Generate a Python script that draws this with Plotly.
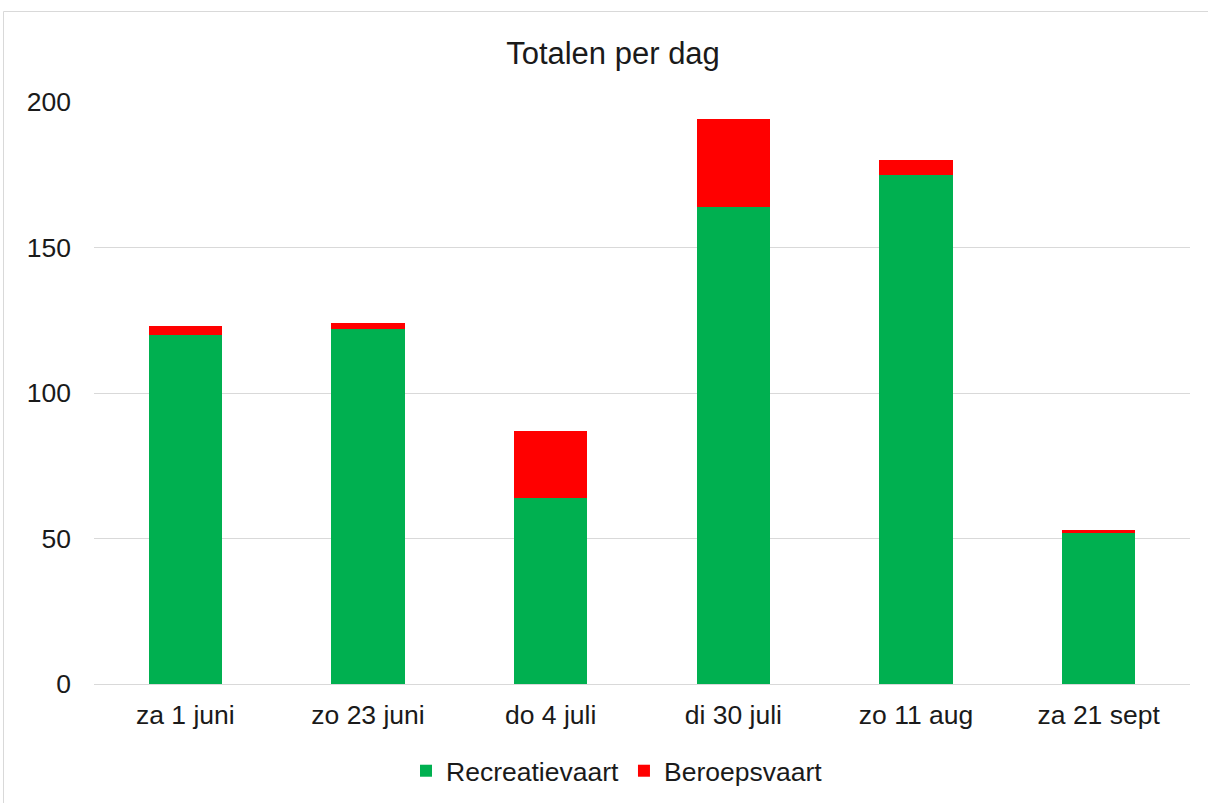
import plotly.graph_objects as go

categories = ["za 1 juni", "zo 23 juni", "do 4 juli", "di 30 juli", "zo 11 aug", "za 21 sept"]
recreatievaart = [120, 122, 64, 164, 175, 52]
beroepsvaart = [3, 2, 23, 30, 5, 1]
y_ticks = [0, 50, 100, 150, 200]

W, H = 1208, 803
L, R, T, B = 94, 18, 102, 119
pw = W - L - R
ph = H - T - B

def px_to_paper_x(px):
    return (px - L) / pw

def px_to_paper_y(py):
    return (H - B - py) / ph

fig = go.Figure()
fig.add_trace(go.Bar(x=categories, y=recreatievaart, name="Recreatievaart",
                     marker=dict(color="#00B050", line=dict(width=0))))
fig.add_trace(go.Bar(x=categories, y=beroepsvaart, name="Beroepsvaart",
                     marker=dict(color="#FF0000", line=dict(width=0))))

fig.update_layout(
    width=W, height=H,
    barmode="stack", bargap=0.6,
    paper_bgcolor="white", plot_bgcolor="white",
    margin=dict(l=L, r=R, t=T, b=B, autoexpand=False),
    font=dict(family="Liberation Sans, Arial, sans-serif", size=26.5, color="#1a1a1a"),
    title=dict(text="Totalen per dag", x=px_to_paper_x(613), xref="paper",
               xanchor="center", y=1 - 53 / H, yanchor="middle",
               font=dict(size=31, color="#1a1a1a")),
    legend=dict(orientation="h", x=px_to_paper_x(617), xanchor="center",
                y=px_to_paper_y(771), yanchor="middle",
                font=dict(size=26.5, color="#1a1a1a"), traceorder="normal",
                itemwidth=30),
    xaxis=dict(showgrid=False, showline=True, linecolor="#d9d9d9", linewidth=1,
               ticks="", ticklabelstandoff=7, tickfont=dict(size=26.5),
               automargin=False),
    yaxis=dict(range=[0, 200], tickvals=y_ticks, showgrid=True, gridcolor="#d9d9d9",
               gridwidth=1, zeroline=False, showline=False, ticks="",
               ticklabelstandoff=22, tickfont=dict(size=26.5), automargin=False),
    shapes=[dict(type="rect", xref="paper", yref="paper",
                 x0=px_to_paper_x(3.5), x1=px_to_paper_x(W + 20),
                 y0=px_to_paper_y(H + 20), y1=px_to_paper_y(11.5),
                 line=dict(color="#d9d9d9", width=1), fillcolor="rgba(0,0,0,0)",
                 layer="below")],
)

fig.write_html("out.html", config={"displayModeBar": False},
               post_script="document.body.style.margin='0';document.body.style.overflow='hidden';")
